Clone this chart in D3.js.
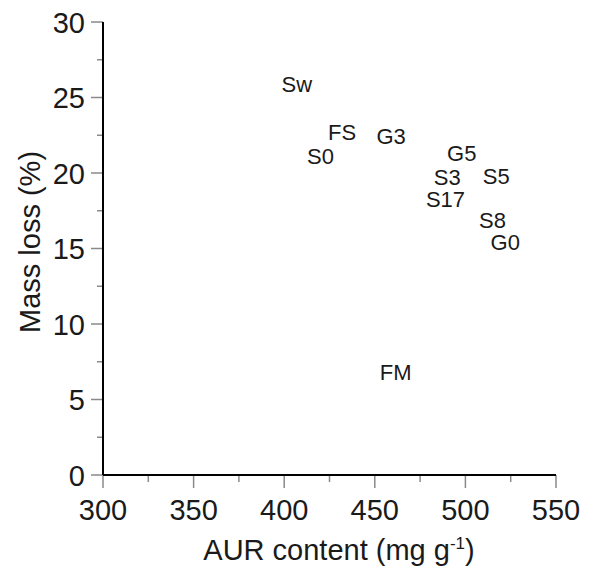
<!DOCTYPE html>
<html>
<head>
<meta charset="utf-8">
<script src="https://cdn.jsdelivr.net/npm/d3@7"></script>
<style>
  body { margin: 0; background: #fff; }
  svg text { font-family: "Liberation Sans", Arial, sans-serif; fill: #1a1a1a; }
</style>
</head>
<body>
<div id="chart"></div>
<script>
// sample labels and their positions (AUR content, mass loss)
const samples = ["Sw", "FS", "G3", "S0", "G5", "S3", "S5", "S17", "S8", "G0", "FM"];
const aurContent = [407, 432, 459, 420, 498, 490, 517, 489, 515, 522, 461.5];
const massLoss = [25.9, 22.7, 22.45, 21.1, 21.35, 19.75, 19.8, 18.3, 16.9, 15.4, 6.8];

const xTicks = [300, 350, 400, 450, 500, 550];
const yTicks = [0, 5, 10, 15, 20, 25, 30];

const width = 594, height = 577;
const margin = { top: 22, right: 38, bottom: 102, left: 103 };

const svg = d3.select("#chart").append("svg")
  .attr("width", width)
  .attr("height", height);

const x = d3.scaleLinear().domain([300, 550]).range([margin.left, width - margin.right]);
const y = d3.scaleLinear().domain([0, 30]).range([height - margin.bottom, margin.top]);

// minor ticks at half steps
const xMinor = d3.range(325, 550, 50);
const yMinor = d3.range(2.5, 30, 5);

const tickColor = "#8a8a8a";

// x axis
const gx = svg.append("g").attr("transform", `translate(0,${y(0)})`);
gx.selectAll(".major").data(xTicks).join("line")
  .attr("x1", d => x(d)).attr("x2", d => x(d))
  .attr("y1", 0).attr("y2", 13)
  .attr("stroke", tickColor).attr("stroke-width", 1.5);
gx.selectAll(".minor").data(xMinor).join("line")
  .attr("class", "minor")
  .attr("x1", d => x(d)).attr("x2", d => x(d))
  .attr("y1", 0).attr("y2", 7)
  .attr("stroke", tickColor).attr("stroke-width", 1.5);
gx.selectAll("text").data(xTicks).join("text")
  .attr("x", d => x(d))
  .attr("y", 45)
  .attr("text-anchor", "middle")
  .style("font-size", "29px")
  .text(d => d);
gx.append("line")
  .attr("x1", x(300)).attr("x2", x(550))
  .attr("stroke", "#000").attr("stroke-width", 2);

// y axis
const gy = svg.append("g").attr("transform", `translate(${x(300)},0)`);
gy.selectAll(".major").data(yTicks).join("line")
  .attr("x1", -12).attr("x2", 0)
  .attr("y1", d => y(d)).attr("y2", d => y(d))
  .attr("stroke", tickColor).attr("stroke-width", 1.5);
gy.selectAll(".minor").data(yMinor).join("line")
  .attr("class", "minor")
  .attr("x1", -6).attr("x2", 0)
  .attr("y1", d => y(d)).attr("y2", d => y(d))
  .attr("stroke", tickColor).attr("stroke-width", 1.5);
gy.selectAll("text").data(yTicks).join("text")
  .attr("x", -18)
  .attr("y", d => y(d) + 10.5)
  .attr("text-anchor", "end")
  .style("font-size", "29px")
  .text(d => d);
gy.append("line")
  .attr("y1", y(0)).attr("y2", y(30))
  .attr("stroke", "#000").attr("stroke-width", 2);

// axis titles
const xt = svg.append("text")
  .attr("x", 339)
  .attr("y", 560)
  .attr("text-anchor", "middle")
  .style("font-size", "29px");
xt.append("tspan").text("AUR content (mg g");
xt.append("tspan").attr("dy", -11).style("font-size", "17px").text("-1");
xt.append("tspan").attr("dy", 11).text(")");

svg.append("text")
  .attr("transform", `translate(40,${242}) rotate(-90)`)
  .attr("text-anchor", "middle")
  .style("font-size", "29px")
  .text("Mass loss (%)");

// point labels
svg.append("g").selectAll("text").data(samples).join("text")
  .attr("x", (d, i) => x(aurContent[i]))
  .attr("y", (d, i) => y(massLoss[i]))
  .attr("dy", "0.36em")
  .attr("text-anchor", "middle")
  .style("font-size", "22px")
  .text(d => d);
</script>
</body>
</html>
